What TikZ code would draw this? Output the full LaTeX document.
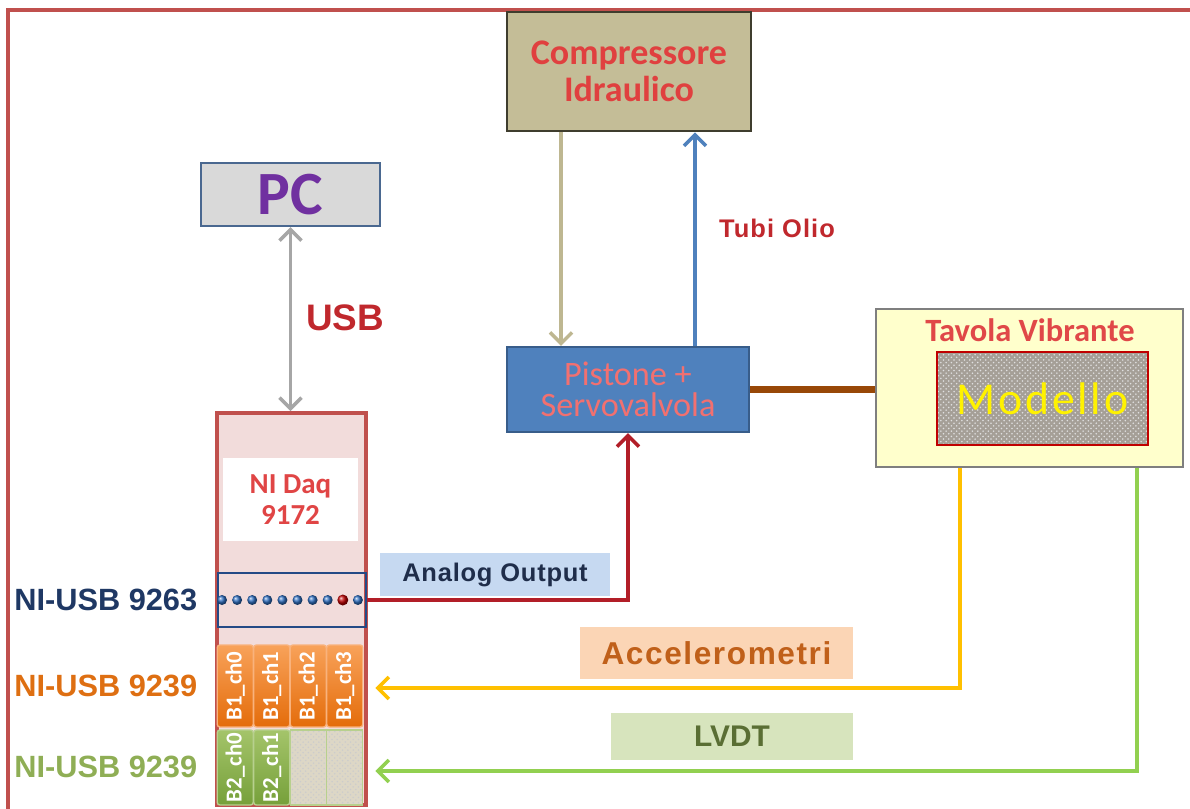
\documentclass[tikz,border=0pt]{standalone}
\usepackage{fontspec}
\setmainfont{Carlito}
\newfontfamily\arialfont{Liberation Sans}
\usetikzlibrary{arrows.meta,patterns}

\definecolor{frameRed}{HTML}{C0504D}
\definecolor{compFill}{HTML}{C4BD97}
\definecolor{compEdge}{HTML}{3F3D2E}
\definecolor{compText}{HTML}{E0403F}
\definecolor{pcFill}{HTML}{D9D9D9}
\definecolor{pcEdge}{HTML}{4A6890}
\definecolor{pcText}{HTML}{7030A0}
\definecolor{daqFill}{HTML}{F2DCDB}
\definecolor{daqText}{HTML}{E04545}
\definecolor{aoEdge}{HTML}{244A86}
\definecolor{dotBlue}{HTML}{2E6EC0}
\definecolor{dotRed}{HTML}{C00000}
\definecolor{orLt}{HTML}{F8A25A}
\definecolor{orDk}{HTML}{E46C0A}
\definecolor{orEdge}{HTML}{F9B27C}
\definecolor{grLt}{HTML}{A4C46A}
\definecolor{grDk}{HTML}{76A03A}
\definecolor{grEdge}{HTML}{B7D08E}
\definecolor{texFill}{HTML}{DDD7C6}
\definecolor{navyLab}{HTML}{1F3864}
\definecolor{orangeLab}{HTML}{DE6F12}
\definecolor{greenLab}{HTML}{8FAE55}
\definecolor{pistFill}{HTML}{4F81BD}
\definecolor{pistEdge}{HTML}{385D8A}
\definecolor{pistText}{HTML}{F27070}
\definecolor{tavFill}{HTML}{FFFFCC}
\definecolor{tavEdge}{HTML}{7F7F7F}
\definecolor{tavText}{HTML}{E04848}
\definecolor{modFill}{HTML}{A59F97}
\definecolor{modEdge}{HTML}{C00000}
\definecolor{tanLine}{HTML}{BEB791}
\definecolor{blueLine}{HTML}{4F81BD}
\definecolor{brownLine}{HTML}{984807}
\definecolor{redLine}{HTML}{B21E28}
\definecolor{yelLine}{HTML}{FFC000}
\definecolor{grnLine}{HTML}{92D050}
\definecolor{usbLine}{HTML}{A6A6A6}
\definecolor{aoFill}{HTML}{C6D9F1}
\definecolor{aoText}{HTML}{1F2D4A}
\definecolor{accFill}{HTML}{FBD5B5}
\definecolor{accText}{HTML}{C0601A}
\definecolor{lvdtFill}{HTML}{D7E4BD}
\definecolor{lvdtText}{HTML}{5A6E34}
\definecolor{usbText}{HTML}{C0282D}

\begin{document}
\begin{tikzpicture}[x=0.02cm,y=-0.02cm,
    blk/.style={draw,line width=1.6pt,inner sep=0pt,align=center},
    tagbox/.style={inner sep=0pt,align=center},
    barb/.tip={Straight Barb[length=2.2mm,width=4.4mm]},
    sig/.style={line width=2pt,-barb},
    orMod/.style={draw=orEdge,line width=0.8pt,rounded corners=1.5pt,top color=orLt,bottom color=orDk,
      minimum width=0.72cm,minimum height=1.64cm,inner sep=0pt,text=white,
      font=\fontsize{13}{13}\selectfont\bfseries},
    grMod/.style={orMod,draw=grEdge,top color=grLt,bottom color=grDk,minimum height=1.5cm},
    texMod/.style={draw=grEdge,line width=0.8pt,fill=texFill,minimum width=0.72cm,minimum height=1.5cm,
      path picture={\fill[pattern=crosshatch dots,pattern color=white!60!gray]
        (path picture bounding box.south west) rectangle (path picture bounding box.north east);}},
    usbLab/.style={anchor=west,inner sep=0pt,font=\arialfont\fontsize{17.5}{17.5}\selectfont\bfseries}]
  \useasboundingbox (0,0) rectangle (1190,808);

  % Outer frame
  \draw[line width=2.8pt,frameRed] (8,815) -- (8,10) -- (1195,10);

  % Compressor and PC
  \node[blk,draw=compEdge,fill=compFill,minimum width=4.88cm,minimum height=2.38cm,
    font=\fontsize{20.5}{21}\selectfont\bfseries,text=compText] (comp) at (629,71.5) {Compressore\\Idraulico};
  \node[blk,draw=pcEdge,fill=pcFill,line width=1.2pt,minimum width=3.58cm,minimum height=1.26cm,
    font=\fontsize{35}{35}\selectfont\bfseries,text=pcText] (pc) at (290.5,194.5) {PC};

  % NI Daq chassis
  \node[blk,draw=frameRed,fill=daqFill,line width=2.2pt,minimum width=2.98cm,minimum height=7.84cm] (daq) at (291.5,609) {};
  \node[fill=white,minimum width=2.7cm,minimum height=1.66cm,align=center,
    font=\fontsize{16.5}{18}\selectfont\bfseries,text=daqText] (daqlbl) at (290.5,499.5) {NI Daq\\9172};
  \node[draw=aoEdge,line width=1.4pt,minimum width=2.96cm,minimum height=1.08cm] (ao) at (292,600) {};
  \foreach \i in {0,...,7,9}
    \shade[ball color=dotBlue] (222+15.1*\i,600) circle (0.1cm);
  \shade[ball color=dotRed] (222+15.1*8,600) circle (0.11cm);

  % Modules
  \foreach \n [count=\k from 0] in {ch0,ch1,ch2,ch3}
    \node[orMod] (b1\n) at (235.25+36.5*\k,686) {\rotatebox{90}{B1\_\n}};
  \foreach \n [count=\k from 0] in {ch0,ch1}
    \node[grMod] (b2\n) at (235.25+36.5*\k,767.5) {\rotatebox{90}{B2\_\n}};
  \node[texMod] (b2ch2) at (308.25,767.5) {};
  \node[texMod] (b2ch3) at (344.75,767.5) {};

  % Module labels
  \node[usbLab,text=navyLab] (lab9263) at (14,600) {NI-USB 9263};
  \node[usbLab,text=orangeLab] (lab9239a) at (14,686) {NI-USB 9239};
  \node[usbLab,text=greenLab] (lab9239b) at (14,767) {NI-USB 9239};

  % Piston and shaking table
  \node[blk,draw=pistEdge,fill=pistFill,line width=1.2pt,minimum width=4.84cm,minimum height=1.7cm,
    font=\fontsize{19.5}{18}\selectfont,text=pistText] (pist) at (628,389.5) {Pistone +\\Servovalvola};
  \node[blk,draw=tavEdge,fill=tavFill,minimum width=6.14cm,minimum height=3.16cm] (tav) at (1029.5,388) {};
  \node[inner sep=0pt,font=\fontsize{18.5}{18.5}\selectfont\bfseries,text=tavText] (tavlbl) at (1030,330) {Tavola Vibrante};
  \node[blk,draw=modEdge,fill=modFill,minimum width=4.22cm,minimum height=1.86cm,
    font=\fontsize{26}{26}\selectfont\addfontfeature{LetterSpace=6},text=yellow,
    path picture={\fill[pattern=crosshatch dots,pattern color=white!75!gray]
      (path picture bounding box.south west) rectangle (path picture bounding box.north east);}] (mod) at (1042.5,398.5) {Modello};

  % Signal tags
  \node[tagbox,fill=aoFill,minimum width=4.6cm,minimum height=0.86cm,text=aoText,
    font=\arialfont\fontsize{14.5}{14.5}\selectfont\bfseries\addfontfeature{LetterSpace=3}] (aolbl) at (495,574.5) {Analog Output};
  \node[tagbox,fill=accFill,minimum width=5.46cm,minimum height=1.04cm,text=accText,
    font=\arialfont\fontsize{18}{18}\selectfont\bfseries\addfontfeature{LetterSpace=5}] (acclbl) at (716.5,653) {Accelerometri};
  \node[tagbox,fill=lvdtFill,minimum width=4.84cm,minimum height=0.94cm,text=lvdtText,
    font=\arialfont\fontsize{17}{17}\selectfont\bfseries] (lvdtlbl) at (732,736.5) {LVDT};
  \node[inner sep=0pt,text=usbText,font=\arialfont\fontsize{21}{21}\selectfont\bfseries] (usblbl) at (345,318) {USB};
  \node[inner sep=0pt,text=usbText,font=\arialfont\fontsize{14.5}{14.5}\selectfont\bfseries\addfontfeature{LetterSpace=4}] (tubi) at (777,228) {Tubi Olio};

  % Connections
  \draw[sig,usbLine,barb-barb] (pc.south) -- (pc.south |- daq.north);
  \draw[sig,tanLine] ([xshift=-1.36cm]comp.south) -- ([xshift=-1.36cm]comp.south |- pist.north);
  \draw[sig,blueLine] ([xshift=1.32cm]comp.south |- pist.north) -- ([xshift=1.32cm]comp.south);
  \draw[line width=4pt,brownLine] (pist.east) -- (pist.east -| tav.west);
  \draw[sig,redLine] (ao.east) -| (pist.south);
  \draw[sig,yelLine] ([xshift=-1.39cm]tav.south) |- ([xshift=0.24cm,yshift=-0.04cm]b1ch3.east);
  \draw[sig,grnLine] ([xshift=2.15cm]tav.south) |- ([xshift=0.24cm,yshift=-0.07cm]b2ch3.east);
\end{tikzpicture}
\end{document}
